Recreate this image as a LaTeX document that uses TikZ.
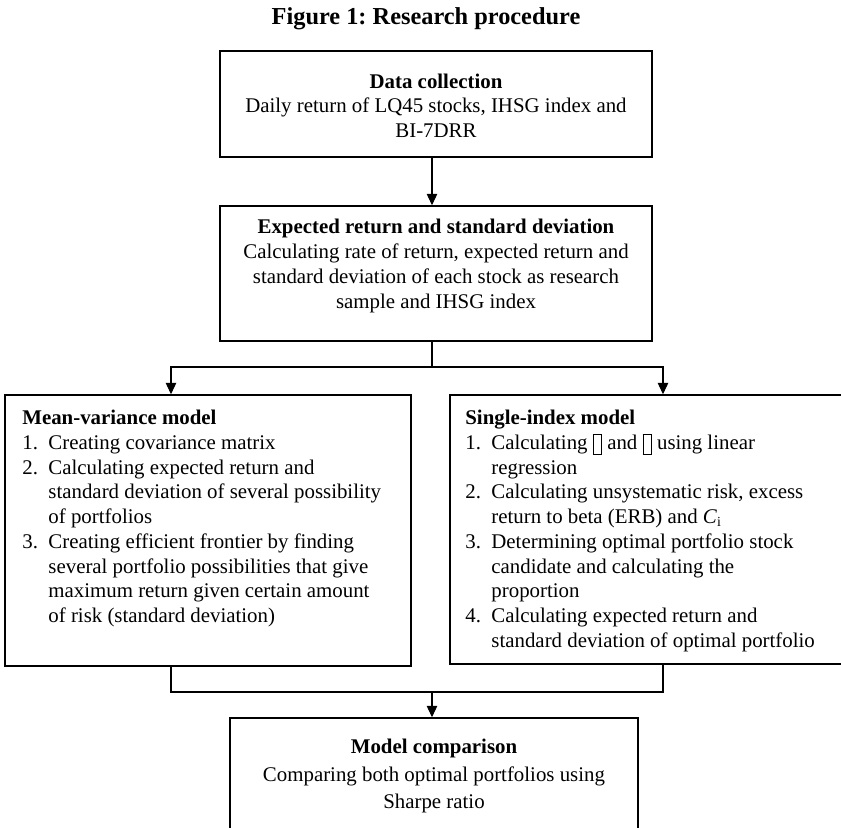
\documentclass[tikz,border=0pt]{standalone}
\usepackage{fontspec}
\setmainfont{Liberation Serif}
\usetikzlibrary{arrows.meta}
\frenchspacing

\newcommand{\pu}{0.575pt}
\newlength{\itmw}\setlength{\itmw}{15pt}
\newcommand{\itm}[1]{\makebox[\itmw][l]{#1}}
\newcommand{\cnt}{\hspace*{\itmw}}
\newcommand{\nglyph}{\raisebox{-2.5pt}{\fboxsep=0pt\fboxrule=0.4pt\fbox{\rule{0pt}{11pt}\hspace{4.5pt}}}}

\begin{document}
\begin{tikzpicture}[x=0.575pt,y=-0.575pt,
  stepbox/.style 2 args={draw,line width=0.9pt,inner sep=0pt,
    minimum width=#1*\pu,minimum height=#2*\pu},
  txt/.style={inner sep=0pt,font=\fontsize{12}{14.2}\selectfont},
  link/.style={line width=0.6pt},
  arr/.style={link,-{Triangle[length=6.5pt,width=6pt]}}]
  \useasboundingbox (0,0) rectangle (841,828);
  \clip (0,0) rectangle (841,828);

  % stems of the connectors
  \coordinate (spine) at (432,0);
  \coordinate (lstem) at (171,0);
  \coordinate (rstem) at (663,0);
  \coordinate (split) at (432,367);
  \coordinate (join) at (432,692);

  \node[font=\bfseries\fontsize{14}{16}\selectfont] (title) at (426,19) {Figure 1: Research procedure};

  % boxes
  \node[stepbox={432}{106}] (data) at (436,104) {};
  \node[stepbox={432}{135}] (expect) at (436,273.5) {};
  \node[stepbox={406}{271}] (mvm) at (208,530.5) {};
  \node[stepbox={402}{269}] (sim) at (651,529.5) {};
  \node[stepbox={408}{132}] (comp) at (434,784) {};

  % texts
  \node[txt,align=center] (datatxt) at (436,105.5)
    {\textbf{Data collection}\\Daily return of LQ45 stocks, IHSG index and\\BI-7DRR};
  \node[txt,align=center] (expecttxt) at (436,266)
    {\textbf{Expected return and standard deviation}\\
     Calculating rate of return, expected return and\\
     standard deviation of each stock as research\\
     sample and IHSG index};
  \node[txt,align=left,anchor=north west] (mvmtxt) at (22,410)
    {\textbf{Mean-variance model}\\
     \itm{1.}Creating covariance matrix\\
     \itm{2.}Calculating expected return and\\
     \cnt standard deviation of several possibility\\
     \cnt of portfolios\\
     \itm{3.}Creating efficient frontier by finding\\
     \cnt several portfolio possibilities that give\\
     \cnt maximum return given certain amount\\
     \cnt of risk (standard deviation)};
  \node[txt,align=left,anchor=north west] (simtxt) at (465,410)
    {\textbf{Single-index model}\\
     \itm{1.}Calculating \nglyph{} and \nglyph{} using linear\\
     \cnt regression\\
     \itm{2.}Calculating unsystematic risk, excess\\
     \cnt return to beta (ERB) and \textit{C}\textsubscript{i}\\
     \itm{3.}Determining optimal portfolio stock\\
     \cnt candidate and calculating the\\
     \cnt proportion\\
     \itm{4.}Calculating expected return and\\
     \cnt standard deviation of optimal portfolio};
  \node[txt,font=\fontsize{12}{16}\selectfont,align=center] (comptxt) at (434,776)
    {\textbf{Model comparison}\\Comparing both optimal portfolios using\\Sharpe ratio};

  % connectors
  \draw[arr] (data.south -| spine) -- (expect.north -| spine);
  \draw[link] (expect.south -| spine) -- (split);
  \draw[arr] (split) -| (mvm.north -| lstem);
  \draw[arr] (split) -| (sim.north -| rstem);
  \draw[link] (mvm.south -| lstem) |- (join) -| (sim.south -| rstem);
  \draw[arr] (join) -- (comp.north -| spine);
\end{tikzpicture}
\end{document}
